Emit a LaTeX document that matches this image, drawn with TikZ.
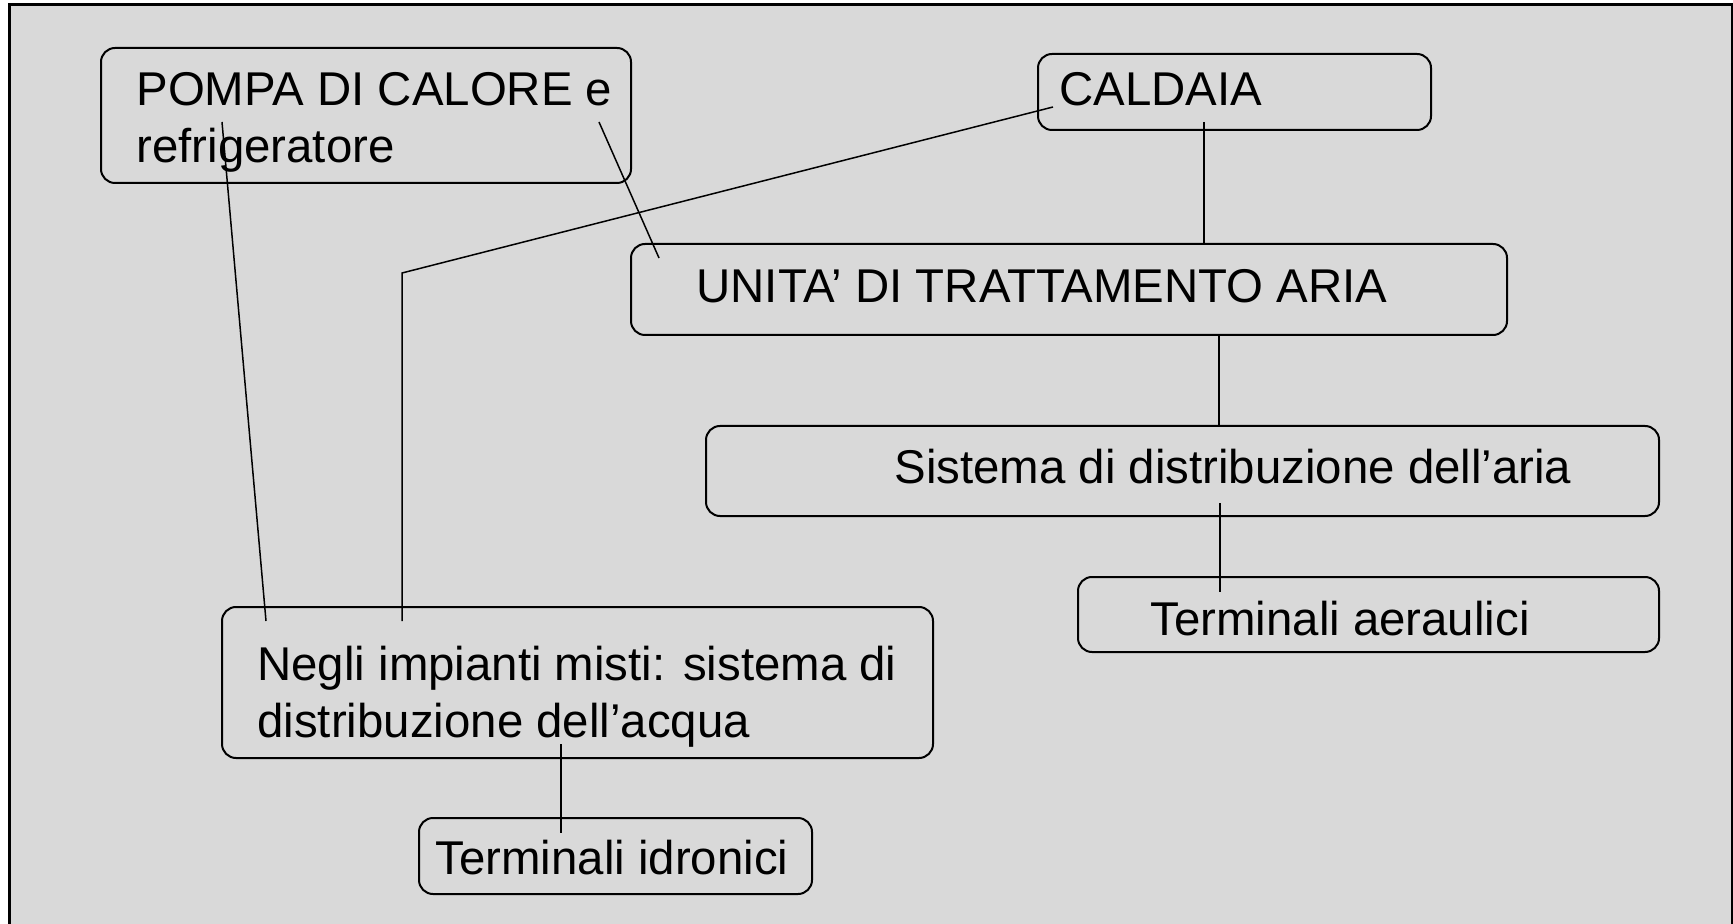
\documentclass[tikz,border=0pt]{standalone}
\usepackage{fontspec}
\setmainfont{Liberation Sans}
\definecolor{sfondo}{HTML}{D9D9D9}
\tikzset{
  box/.style={draw, rounded corners=7pt, line width=1pt, anchor=north west, inner sep=0pt},
  txt/.style={anchor=base west, inner sep=0pt, font=\fontsize{23.7}{28}\selectfont},
  link/.style={line width=0.75pt}
}
\begin{document}
\begin{tikzpicture}[x=0.5pt,y=-0.5pt]
    \useasboundingbox (0,0) rectangle (1733,924);
    \draw[fill=sfondo, line width=1.5pt] (9.5,5) rectangle (1732,950);

    % riquadri
    \node[box, minimum width=265pt, minimum height=67.5pt] (pompa) at (100,47) {};
    \node[box, minimum width=196.5pt, minimum height=38pt] (caldaia) at (1037,53) {};
    \node[box, minimum width=438pt, minimum height=45.5pt] (uta) at (630,243) {};
    \node[box, minimum width=476.5pt, minimum height=45pt] (aria) at (705,425) {};
    \node[box, minimum width=290.5pt, minimum height=37.5pt] (aeraul) at (1077,576) {};
    \node[box, minimum width=355.5pt, minimum height=75.5pt] (acqua) at (221,606) {};
    \node[box, minimum width=196.5pt, minimum height=38pt] (idron) at (418,817) {};

    % testi
    \node[txt] (pompaA) at (136,106) {POMPA DI CALORE e};
    \node[txt] (pompaB) at (136,163) {refrigeratore};
    \node[txt] (caldaiaT) at (1059,106) {CALDAIA};
    \node[txt] (utaT) at (696,303) {UNITA’ DI TRATTAMENTO ARIA};
    \node[txt] (ariaT) at (894,484) {Sistema di distribuzione dell’aria};
    \node[txt] (aeraulT) at (1150,635) {Terminali aeraulici};
    \node[txt] (acquaA) at (257,680) {Negli impianti misti: sistema di};
    \node[txt] (acquaB) at (257,737) {distribuzione dell’acqua};
    \node[txt] (idronT) at (435,874) {Terminali idronici};

    % collegamenti
    \coordinate (p1) at (222,122);
    \coordinate (a1) at (266,621);
    \coordinate (p2) at (599,122);
    \coordinate (u1) at (659,258);
    \coordinate (c1) at (1053,107);
    \coordinate (k1) at (402,273);
    \coordinate (a2) at (402,621);
    \coordinate (c2) at (1204,122);
    \coordinate (u2) at (1219,335);
    \coordinate (s1) at (1220,503);
    \coordinate (t1) at (1220,592);
    \coordinate (a3) at (561,744);
    \coordinate (t2) at (561,833);
    \draw[link] (p1) -- (a1);
    \draw[link] (p2) -- (u1);
    \draw[link] (c1) -- (k1) -- (a2);
    \draw[link] (c2) -- (c2 |- uta.north);
    \draw[link] (u2) -- (u2 |- aria.north);
    \draw[link] (s1) -- (t1);
    \draw[link] (a3) -- (t2);
\end{tikzpicture}
\end{document}
